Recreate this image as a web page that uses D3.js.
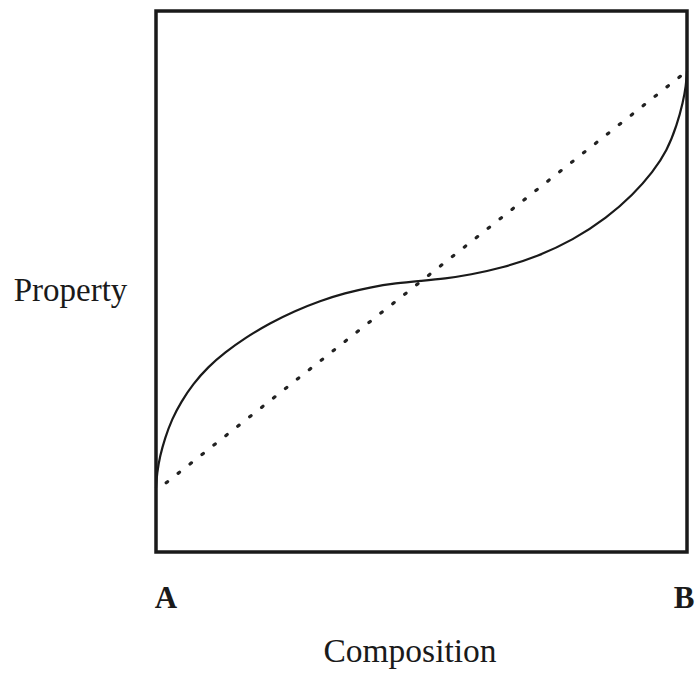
<!DOCTYPE html>
<html>
<head>
<meta charset="utf-8">
<script src="https://cdn.jsdelivr.net/npm/d3@7"></script>
<style>
  html, body { margin: 0; padding: 0; background: #fff; }
  svg { display: block; }
  text { font-family: "Liberation Serif", "Times New Roman", serif; fill: #1a1a1a; }
</style>
</head>
<body>
<svg id="chart" width="695" height="678"></svg>
<script>
// Composition (fraction of B) and property values
const composition = [0.000, 0.0019, 0.0075, 0.0169, 0.0301, 0.0471, 0.0697, 0.0979, 0.1299, 0.1676, 0.2147, 0.2618, 0.3089, 0.3559, 0.4030, 0.4520, 0.4991,
                     0.5443, 0.5913, 0.6535, 0.7175, 0.7853, 0.8493, 0.8983, 0.9360, 0.9623, 0.9812, 0.9925, 0.9981, 1.000];
const property    = [0.1183, 0.1460, 0.1774, 0.2107, 0.2458, 0.2773, 0.3105, 0.3420, 0.3689, 0.3956, 0.4233, 0.4458, 0.4643, 0.4787, 0.4893, 0.4970, 0.5013,
                     0.5054, 0.5124, 0.5257, 0.5458, 0.5765, 0.6179, 0.6603, 0.7028, 0.7416, 0.7893, 0.8318, 0.8614, 0.8891];
const idealComposition = [0, 1];
const idealProperty    = [0.113, 0.889];
const endLabels = ["A", "B"];
const xTitle = "Composition";
const yTitle = "Property";

const svg = d3.select("#chart");
const box = { left: 156, right: 687, top: 11, bottom: 552 };

const x = d3.scaleLinear().domain([0, 1]).range([box.left, box.right]);
const y = d3.scaleLinear().domain([0, 1]).range([box.bottom, box.top]);

const curveData = composition.map((c, i) => ({ c, p: property[i] }));
const idealData = idealComposition.map((c, i) => ({ c, p: idealProperty[i] }));

// dotted ideal (linear) line
svg.append("path")
  .datum(idealData)
  .attr("d", d3.line().x(d => x(d.c)).y(d => y(d.p)))
  .attr("fill", "none")
  .attr("stroke", "#222")
  .attr("stroke-width", 3.2)
  .attr("stroke-linecap", "round")
  .attr("stroke-dasharray", "1.8 13.4")
  .attr("stroke-dashoffset", -13);

// real curve
svg.append("path")
  .datum(curveData)
  .attr("d", d3.line().x(d => x(d.c)).y(d => y(d.p)).curve(d3.curveBasis))
  .attr("fill", "none")
  .attr("stroke", "#1a1a1a")
  .attr("stroke-width", 2.2);

// frame
svg.append("rect")
  .attr("x", box.left)
  .attr("y", box.top)
  .attr("width", box.right - box.left)
  .attr("height", box.bottom - box.top)
  .attr("fill", "none")
  .attr("stroke", "#1a1a1a")
  .attr("stroke-width", 3.5);

// end labels A / B
svg.selectAll("text.end")
  .data(endLabels)
  .enter().append("text")
  .attr("class", "end")
  .attr("x", (d, i) => x(i) + (i === 0 ? 10 : -3))
  .attr("y", 608)
  .attr("text-anchor", "middle")
  .attr("font-weight", "bold")
  .attr("font-size", 31)
  .text(d => d);

// axis titles
svg.append("text")
  .attr("x", 410)
  .attr("y", 662)
  .attr("text-anchor", "middle")
  .attr("font-size", 33.5)
  .text(xTitle);

svg.append("text")
  .attr("x", 70.5)
  .attr("y", 301)
  .attr("text-anchor", "middle")
  .attr("font-size", 33)
  .text(yTitle);
</script>
</body>
</html>
